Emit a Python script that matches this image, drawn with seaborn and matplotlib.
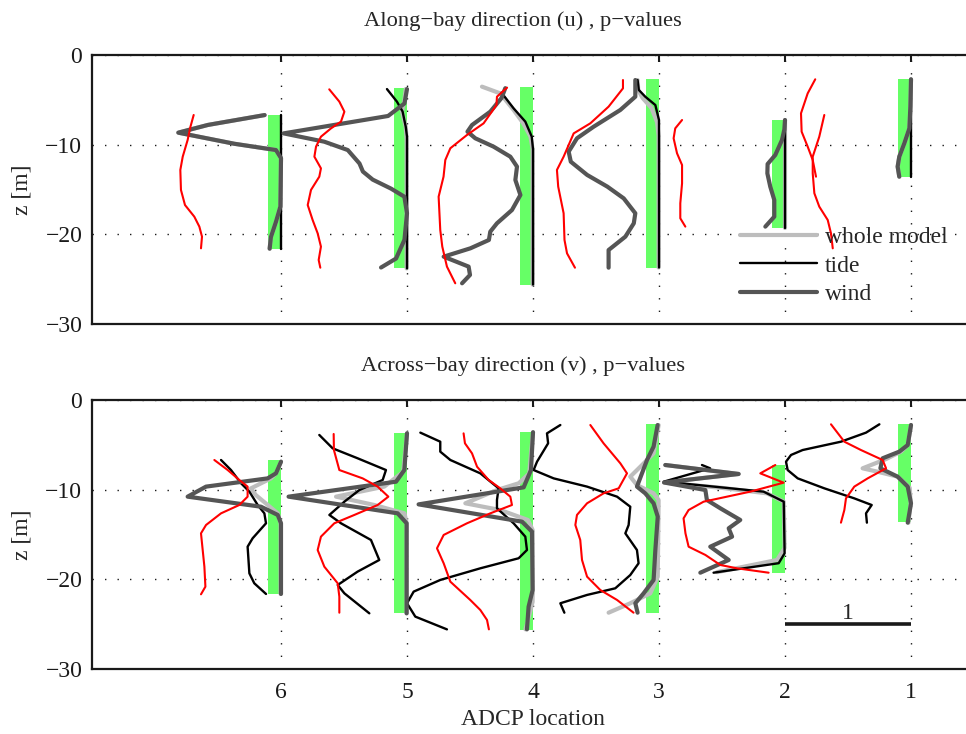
import matplotlib
matplotlib.use("Agg")
import matplotlib.pyplot as plt
import pandas as pd
import seaborn as sns
from matplotlib.lines import Line2D

# ---------------- data: (p-value offset from location, depth z [m]) ----------------
LOCATIONS = [6, 5, 4, 3, 2, 1]
Y_TICKS = [0, -10, -20, -30]
BAR_TOP = [-6.7, -3.7, -3.6, -2.7, -7.2, -2.7]        # per location 6..1
BAR_BOTTOM = [-21.6, -23.8, -25.6, -23.8, -19.3, -13.6]
SIG_WIDTH = 0.1

# ---- along-bay (u) ----
u6_wind = [(0.13, -6.7), (0.58, -7.8), (0.815, -8.66), (0.37, -9.9), (0.04, -10.6), (0.0, -11.5),
           (0.005, -16.9), (0.04, -18.6), (0.08, -20.3), (0.09, -21.6)]
u6_whole = u6_wind
u6_tide = [(0.0, -6.7), (0.0, -21.6)]
u6_red = [(0.693, -6.69), (0.72, -8.07), (0.741, -9.48), (0.78, -11.34), (0.799, -12.82), (0.794, -15.05),
          (0.762, -16.73), (0.688, -18.03), (0.648, -19.14), (0.627, -20.26), (0.635, -21.56)]

u5_tide = [(0.159, -3.8), (0.08, -5.2), (0.035, -6.3), (0.01, -8.0), (0.0, -9.1), (0.0, -23.8)]
u5_whole = [(0.01, -3.8), (0.02, -5.0), (0.04, -6.3), (0.01, -8.0), (0.003, -9.5), (0.003, -23.8)]
u5_wind = [(0.0, -3.8), (0.02, -5.4), (0.15, -6.8), (0.979, -8.74), (0.656, -9.67), (0.47, -10.6),
           (0.377, -12.1), (0.35, -13.0), (0.272, -13.9), (0.127, -14.9), (0.021, -15.8), (0.0, -17.65),
           (0.02, -20.6), (0.087, -22.7), (0.206, -23.7)]
u5_red = [(0.617, -3.83), (0.537, -5.2), (0.497, -6.32), (0.524, -7.43), (0.603, -8.18), (0.683, -9.11),
          (0.722, -10.22), (0.735, -11.34), (0.683, -12.64), (0.696, -13.57), (0.762, -15.05),
          (0.788, -16.73), (0.749, -18.4), (0.709, -19.89), (0.683, -21.37), (0.701, -22.86), (0.688, -23.72)]

u4_tide = [(0.25, -4.2), (0.154, -5.95), (0.061, -7.43), (0.01, -9.1), (0.0, -10.5), (0.0, -25.6)]
u4_whole = [(0.405, -3.53), (0.26, -4.28), (0.154, -6.13), (0.077, -7.62), (0.02, -9.1), (0.003, -10.5),
            (0.003, -25.6)]
u4_wind = [(0.22, -3.7), (0.25, -4.8), (0.339, -6.32), (0.484, -7.81), (0.52, -8.55), (0.458, -9.29),
           (0.313, -10.22), (0.18, -11.34), (0.127, -12.45), (0.14, -13.94), (0.10, -15.61), (0.167, -17.29),
           (0.286, -18.77), (0.339, -19.7), (0.35, -20.63), (0.497, -21.56), (0.709, -22.49), (0.511, -23.6),
           (0.5, -24.53), (0.563, -25.46)]
u4_red = [(0.206, -3.64), (0.286, -4.65), (0.29, -5.58), (0.392, -7.62), (0.524, -8.92), (0.656, -10.4),
          (0.696, -11.71), (0.71, -13.57), (0.749, -15.8), (0.736, -19.52), (0.72, -21.37), (0.683, -23.6),
          (0.617, -25.46)]

u3_tide = [(0.17, -2.79), (0.16, -3.9), (0.109, -4.65), (0.029, -5.58), (0.0, -7.25), (0.0, -23.7)]
u3_whole = [(0.17, -2.79), (0.165, -3.9), (0.13, -4.8), (0.06, -5.9), (0.015, -7.5), (0.003, -9.0),
            (0.003, -23.7)]
u3_wind = [(0.188, -2.79), (0.188, -4.65), (0.307, -6.13), (0.519, -8.0), (0.651, -9.29), (0.717, -10.78),
           (0.70, -11.9), (0.57, -13.38), (0.41, -14.68), (0.28, -15.99), (0.188, -17.65), (0.20, -18.77),
           (0.267, -20.26), (0.40, -21.75), (0.40, -23.72)]
u3_red = [(0.286, -2.79), (0.286, -3.72), (0.40, -5.76), (0.545, -7.62), (0.677, -8.74), (0.757, -11.34),
          (0.81, -12.82), (0.80, -14.68), (0.757, -17.65), (0.75, -20.63), (0.73, -22.12), (0.667, -23.72)]

u2_tide = [(0.0, -7.25), (0.0, -19.26)]
u2_whole = [(0.003, -7.25), (0.003, -19.26)]
u2_wind = [(0.0, -7.25), (0.005, -8.3), (0.024, -9.48), (0.077, -11.15), (0.138, -12.16), (0.14, -13.2),
           (0.117, -14.68), (0.085, -16.17), (0.085, -18.03), (0.156, -19.14)]
u2_red = [(0.817, -7.25), (0.871, -8.18), (0.884, -9.29), (0.857, -10.96), (0.817, -12.27), (0.817, -14.31),
          (0.831, -16.54), (0.831, -18.21), (0.791, -19.14)]

u1_tide = [(0.0, -2.71), (0.0, -13.64)]
u1_wind = [(0.0, -2.71), (0.005, -5.76), (0.013, -8.18), (0.053, -9.85), (0.093, -11.34), (0.106, -12.45),
           (0.093, -13.57)]
u1_whole = u1_wind
u1_red = [(0.76, -2.71), (0.82, -4.28), (0.873, -6.5), (0.868, -8.55), (0.82, -10.22), (0.78, -11.71),
          (0.754, -13.57)]
u1_red_b = [(0.688, -6.69), (0.728, -9.11), (0.78, -11.34), (0.78, -13.2), (0.767, -15.42), (0.728, -16.91),
            (0.661, -18.4), (0.635, -19.89), (0.621, -21.56)]

# ---- across-bay (v) ----
v6_wind = [(0.0, -6.88), (0.04, -8.18), (0.106, -8.74), (0.595, -9.66), (0.741, -10.78), (0.159, -11.9),
           (0.026, -12.82), (0.0, -13.75), (0.0, -21.63)]
v6_whole = [(0.0, -6.88), (0.04, -8.18), (0.08, -8.74), (0.238, -9.85), (0.2, -10.6), (0.106, -11.7),
            (0.026, -12.64), (0.003, -13.75), (0.003, -21.63)]
v6_tide = [(0.476, -6.69), (0.397, -7.81), (0.317, -9.29), (0.251, -10.22), (0.185, -11.71), (0.132, -12.64),
           (0.119, -13.75), (0.225, -15.42), (0.265, -16.36), (0.251, -19.33), (0.212, -20.44), (0.119, -21.63)]
v6_red = [(0.529, -6.69), (0.423, -7.81), (0.331, -8.92), (0.265, -9.66), (0.265, -10.78), (0.331, -11.71),
          (0.476, -12.64), (0.595, -13.94), (0.635, -14.87), (0.608, -18.59), (0.6, -20.82), (0.635, -21.67)]

v5_wind = [(0.0, -3.72), (0.021, -7.81), (0.087, -9.11), (0.94, -10.78), (0.074, -12.64), (0.003, -13.75),
           (0.003, -23.79)]
v5_whole = [(0.0, -3.72), (0.03, -8.0), (0.18, -9.66), (0.563, -10.78), (0.259, -11.71), (0.02, -12.64),
            (0.003, -13.75), (0.003, -23.79)]
v5_tide = [(0.696, -3.9), (0.59, -5.39), (0.392, -6.5), (0.167, -7.81), (0.193, -8.92), (0.378, -10.04),
           (0.497, -11.34), (0.616, -12.82), (0.524, -13.75), (0.286, -15.61), (0.22, -17.84), (0.392, -19.14),
           (0.55, -20.63), (0.497, -21.56), (0.299, -23.79)]
v5_red = [(0.582, -3.79), (0.58, -5.58), (0.537, -7.81), (0.352, -8.74), (0.233, -9.66), (0.148, -10.78),
          (0.233, -11.71), (0.418, -12.82), (0.577, -13.75), (0.683, -15.24), (0.709, -16.73), (0.656, -18.59),
          (0.55, -20.44), (0.537, -21.93), (0.537, -23.72)]

v4_wind = [(0.0, -3.6), (0.016, -7.81), (0.074, -9.74), (0.908, -11.64), (0.087, -13.57), (0.008, -14.68),
           (0.003, -21.2), (0.035, -23.05), (0.048, -25.58)]
v4_whole = [(0.0, -3.6), (0.03, -8.2), (0.114, -9.29), (0.286, -10.04), (0.537, -11.52), (0.26, -12.27),
            (0.04, -13.38), (0.003, -14.5), (0.003, -22.5), (0.048, -25.0), (0.06, -25.58)]
v4_tide = [(0.894, -3.64), (0.736, -4.65), (0.736, -5.76), (0.656, -6.69), (0.418, -8.18), (0.273, -9.85),
           (0.286, -11.15), (0.286, -12.08), (0.154, -13.75), (0.061, -15.24), (0.048, -16.73), (0.114, -17.65),
           (0.418, -18.77), (0.736, -20.07), (0.947, -21.37), (1.0, -22.67), (0.934, -24.16), (0.683, -25.58)]
v4_red = [(0.551, -3.72), (0.54, -4.83), (0.484, -5.95), (0.444, -7.44), (0.352, -8.92), (0.26, -9.85),
          (0.18, -10.78), (0.167, -11.71), (0.339, -12.64), (0.524, -13.75), (0.709, -15.05), (0.762, -16.54),
          (0.709, -18.21), (0.656, -20.26), (0.498, -22.3), (0.418, -23.42), (0.365, -24.53), (0.35, -25.58)]

v3_wind = [(0.011, -2.79), (0.043, -5.2), (0.095, -6.69), (0.175, -9.66), (0.109, -10.41), (0.043, -11.52),
           (0.01, -13.01), (0.029, -16.73), (0.043, -20.07), (0.122, -21.56), (0.188, -22.67), (0.17, -23.72)]
v3_whole = [(0.003, -2.79), (0.043, -5.95), (0.148, -7.44), (0.228, -8.55), (0.175, -9.48), (0.043, -10.41),
            (0.003, -11.15), (0.01, -19.7), (0.069, -21.56), (0.228, -22.67), (0.40, -23.72)]
v3_tide = [(0.783, -2.79), (0.889, -3.72), (0.88, -4.83), (0.968, -6.88), (0.995, -7.81), (0.836, -8.74),
           (0.571, -9.66), (0.333, -10.78), (0.228, -11.9), (0.241, -13.94), (0.267, -14.87), (0.175, -16.73),
           (0.162, -18.21), (0.228, -19.52), (0.347, -21.0), (0.571, -21.74), (0.783, -22.67), (0.751, -23.72)]
v3_red = [(0.545, -2.79), (0.44, -4.83), (0.307, -7.06), (0.254, -8.18), (0.32, -9.85), (0.44, -10.41),
          (0.571, -11.52), (0.651, -12.82), (0.664, -13.94), (0.625, -15.61), (0.611, -17.84), (0.571, -19.7),
          (0.466, -21.19), (0.333, -22.3), (0.202, -23.72)]

v2_wind = [(0.95, -7.25), (0.368, -8.25), (0.96, -9.2), (0.632, -10.04), (0.62, -11.15), (0.513, -12.08),
           (0.355, -13.38), (0.447, -14.31), (0.42, -15.24), (0.593, -16.36), (0.447, -17.84), (0.672, -19.26)]
v2_whole = [(0.95, -7.25), (0.368, -8.25), (0.96, -9.2), (0.5, -9.8), (0.143, -10.41), (0.01, -11.34),
            (0.003, -16.5), (0.063, -17.84), (0.54, -19.2)]
v2_tide = [(0.659, -7.25), (0.594, -7.62), (0.96, -9.1), (0.17, -10.22), (0.01, -11.34), (0.003, -17.1),
           (0.05, -18.2), (0.567, -19.26)]
v2_red = [(0.077, -7.25), (0.196, -8.18), (0.011, -9.22), (0.275, -10.22), (0.646, -11.34), (0.765, -12.27),
          (0.805, -13.2), (0.79, -14.87), (0.765, -16.36), (0.632, -17.28), (0.513, -18.4), (0.381, -18.77),
          (0.13, -19.26)]

v1_wind = [(0.0, -2.79), (0.026, -5.02), (0.093, -5.76), (0.225, -6.5), (0.243, -7.62), (0.106, -8.55),
           (0.026, -9.66), (0.0, -11.52), (0.026, -13.68)]
v1_whole = [(0.0, -2.79), (0.026, -5.02), (0.08, -5.76), (0.2, -6.6), (0.384, -7.62), (0.265, -8.0),
            (0.106, -8.55), (0.01, -9.8), (0.003, -11.5), (0.02, -13.68)]
v1_tide = [(0.251, -2.71), (0.357, -3.64), (0.556, -4.65), (0.86, -5.58), (0.952, -6.13), (0.992, -6.88),
           (0.979, -7.81), (0.899, -8.74), (0.688, -9.85), (0.45, -10.97), (0.312, -11.71), (0.357, -12.64),
           (0.35, -13.68)]
v1_red = [(0.635, -2.71), (0.529, -4.65), (0.397, -5.58), (0.225, -6.69), (0.198, -7.62), (0.344, -8.74),
          (0.45, -9.66), (0.516, -10.97), (0.529, -12.27), (0.556, -13.68)]

SCALE_BAR_FROM, SCALE_BAR_LENGTH, SCALE_BAR_DEPTH = 2, 1, -25.0

U_PROFILES = [
    (6, "whole", u6_whole), (6, "tide", u6_tide), (6, "wind", u6_wind), (6, "red", u6_red),
    (5, "whole", u5_whole), (5, "tide", u5_tide), (5, "wind", u5_wind), (5, "red", u5_red),
    (4, "whole", u4_whole), (4, "tide", u4_tide), (4, "wind", u4_wind), (4, "red", u4_red),
    (3, "whole", u3_whole), (3, "tide", u3_tide), (3, "wind", u3_wind), (3, "red", u3_red),
    (2, "whole", u2_whole), (2, "tide", u2_tide), (2, "wind", u2_wind), (2, "red", u2_red),
    (1, "whole", u1_whole), (1, "tide", u1_tide), (1, "wind", u1_wind), (1, "red", u1_red),
    (1, "red", u1_red_b),
]
V_PROFILES = [
    (6, "whole", v6_whole), (6, "tide", v6_tide), (6, "wind", v6_wind), (6, "red", v6_red),
    (5, "whole", v5_whole), (5, "tide", v5_tide), (5, "wind", v5_wind), (5, "red", v5_red),
    (4, "whole", v4_whole), (4, "tide", v4_tide), (4, "wind", v4_wind), (4, "red", v4_red),
    (3, "whole", v3_whole), (3, "tide", v3_tide), (3, "wind", v3_wind), (3, "red", v3_red),
    (2, "whole", v2_whole), (2, "tide", v2_tide), (2, "wind", v2_wind), (2, "red", v2_red),
    (1, "whole", v1_whole), (1, "tide", v1_tide), (1, "wind", v1_wind), (1, "red", v1_red),
]

# ---------------- styling ----------------
SERIES = ["whole", "tide", "wind", "red"]
COLORS = {"whole": "#bdbdbd", "tide": "#000000", "wind": "#555555", "red": "#ff0000"}
WIDTHS = {"whole": 3.0, "tide": 1.7, "wind": 3.0, "red": 1.5}
LABELS = {"whole": "whole model", "tide": "tide", "wind": "wind"}
GREEN = "#66ff66"
FS = 17
TITLE_FS = 16.2

sns.set_theme(style="white")
plt.rcParams["font.family"] = ["Liberation Serif", "DejaVu Serif"]
plt.rcParams["axes.unicode_minus"] = True


def to_frame(profiles):
    rows = []
    for pid, (loc, series, pts) in enumerate(profiles):
        for p, z in pts:
            rows.append({"x": loc + p, "z": z, "series": series, "prof": pid})
    return pd.DataFrame(rows)


def draw_panel(ax, profiles, title):
    ax.set_xlim(7.5, 0.5)
    ax.set_ylim(-30, 0)
    for loc, top, bot in zip(LOCATIONS, BAR_TOP, BAR_BOTTOM):
        ax.fill_betweenx([top, bot], loc, loc + SIG_WIDTH, color=GREEN, lw=0, zorder=1.5)
    df = to_frame(profiles)
    for s in SERIES:
        sub = df[df["series"] == s]
        sns.lineplot(data=sub, x="x", y="z", units="prof", estimator=None, sort=False,
                     color=COLORS[s], linewidth=WIDTHS[s], ax=ax, legend=False, zorder=2)
    ax.set_xticks(LOCATIONS)
    ax.set_yticks(Y_TICKS)
    ax.set_xticklabels([str(l) for l in LOCATIONS])
    ax.grid(True, color="k", linestyle=(0, (1, 8)), linewidth=1.0)
    ax.set_axisbelow(True)
    ax.tick_params(direction="in", length=5, width=1.5, top=True, right=True,
                   labelsize=FS, colors="k")
    ax.tick_params(axis="y", pad=7)
    ax.tick_params(axis="x", pad=9)
    for sp in ax.spines.values():
        sp.set_color("k")
        sp.set_linewidth(1.6)
        sp.set_visible(True)
    ax.set_ylabel("z [m]", fontsize=FS)
    ax.yaxis.set_label_coords(-0.068, 0.5)
    ax.set_xlabel("")
    ax.set_title(title, fontsize=TITLE_FS, pad=21, x=0.489)


fig = plt.figure(figsize=(9.66, 7.34), dpi=100)
W, H = 966, 734
ax_u = fig.add_axes([92 / W, (H - 324) / H, 882 / W, 269 / H])
ax_v = fig.add_axes([92 / W, (H - 669) / H, 882 / W, 269 / H])

draw_panel(ax_u, U_PROFILES, "Along\u2212bay direction (u) , p\u2212values")
draw_panel(ax_v, V_PROFILES, "Across\u2212bay direction (v) , p\u2212values")
ax_u.tick_params(labelbottom=False)

ax_v.set_xlabel("ADCP location", fontsize=FS)
ax_v.xaxis.set_label_coords(0.5, -0.148)

# scale bar
ax_v.plot([SCALE_BAR_FROM, SCALE_BAR_FROM - SCALE_BAR_LENGTH], [SCALE_BAR_DEPTH, SCALE_BAR_DEPTH],
          color="k", lw=2.6, solid_capstyle="butt", zorder=3)
ax_v.text(SCALE_BAR_FROM - SCALE_BAR_LENGTH / 2, SCALE_BAR_DEPTH + 0.6, str(SCALE_BAR_LENGTH),
          ha="center", va="baseline", fontsize=FS)

handles = [Line2D([0], [0], color=COLORS[s], lw=WIDTHS[s]) for s in ["whole", "tide", "wind"]]
ax_u.legend(handles, [LABELS[s] for s in ["whole", "tide", "wind"]], frameon=False,
            loc="upper left", bbox_to_anchor=(0.735, 0.362), handlelength=3.25, handletextpad=0.34,
            labelspacing=0.29, borderpad=0, borderaxespad=0, fontsize=FS)

fig.savefig("out.png", dpi=100)
